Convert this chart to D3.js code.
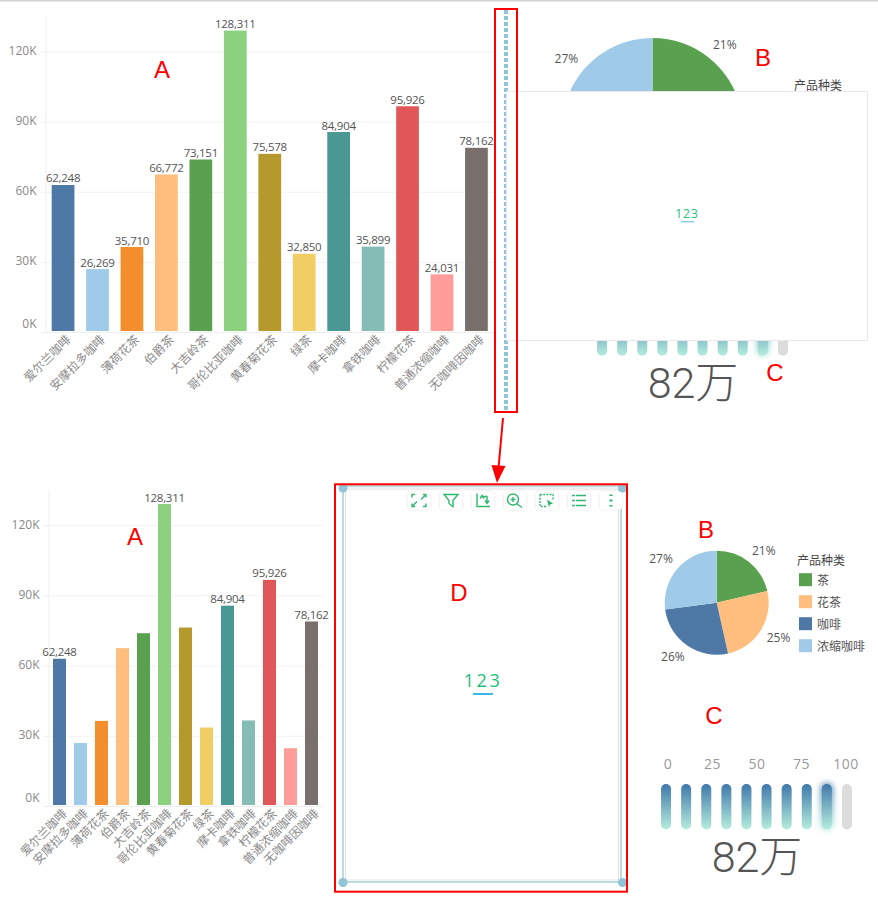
<!DOCTYPE html>
<html>
<head>
<meta charset="utf-8">
<script src="https://cdn.jsdelivr.net/npm/d3@7"></script>
<style>
html, body { margin: 0; padding: 0; background: #fff; }
svg { display: block; }
text { font-family: "Open Sans", "Noto Sans CJK SC", sans-serif; }
.grid line { stroke: #f2f2f2; }
.axis path, .axis line { stroke: #eeeeee; }
.axis text { fill: #8a8a8a; font-size: 12px; }
.val { fill: #555; font-size: 11.5px; letter-spacing: -0.25px; text-anchor: middle; }
.note { fill: #f00; font-family: "Liberation Sans", sans-serif; font-size: 24px; text-anchor: middle; }
</style>
</head>
<body>
<div id="chart"></div>
<script>
// bar chart data
var products = ["爱尔兰咖啡", "安摩拉多咖啡", "薄荷花茶", "伯爵茶", "大吉岭茶", "哥伦比亚咖啡", "黄春菊花茶", "绿茶", "摩卡咖啡", "拿铁咖啡", "柠檬花茶", "普通浓缩咖啡", "无咖啡因咖啡"];
var sales = [62248, 26269, 35710, 66772, 73151, 128311, 75578, 32850, 84904, 35899, 95926, 24031, 78162];
var barColors = ["#4e79a7", "#a0cbe8", "#f28e2b", "#ffbe7d", "#59a14f", "#8cd17d", "#b6992d", "#f1ce63", "#499894", "#86bcb6", "#e15759", "#ff9d9a", "#79706e"];
var yTicks = [0, 30000, 60000, 90000, 120000];

// pie data
var kinds = ["茶", "花茶", "咖啡", "浓缩咖啡"];
var kindShares = [21.4, 25.1, 26.4, 27.1];
var kindColors = ["#59a14f", "#ffbe7d", "#4e79a7", "#a0cbe8"];

// gauge data
var gaugeTicks = [0, 25, 50, 75, 100];
var gaugeCells = [5, 15, 25, 35, 45, 55, 65, 75, 85, 95];
var gaugeValue = 90;
var gaugeText = "82万";

var svg = d3.select("#chart").append("svg")
    .attr("width", 878)
    .attr("height", 900);

var defs = svg.append("defs");

var grad = defs.append("linearGradient")
    .attr("id", "cellFill")
    .attr("x1", 0).attr("y1", 0).attr("x2", 0).attr("y2", 1);
grad.append("stop").attr("offset", "0%").attr("stop-color", "#3f78aa");
grad.append("stop").attr("offset", "100%").attr("stop-color", "#b6eddd");

var blur = defs.append("filter")
    .attr("id", "glow")
    .attr("x", "-80%").attr("y", "-30%").attr("width", "260%").attr("height", "160%");
blur.append("feGaussianBlur").attr("stdDeviation", 3);

var soft = defs.append("filter")
    .attr("id", "soft")
    .attr("x", "-30%").attr("y", "-30%").attr("width", "160%").attr("height", "160%");
soft.append("feDropShadow")
    .attr("dx", 0).attr("dy", 0).attr("stdDeviation", 1.5)
    .attr("flood-color", "#000").attr("flood-opacity", 0.12);

// top edge of the screenshot
svg.append("rect").attr("width", 878).attr("height", 1.5).attr("fill", "#d4d4d4");

function drawBars(opt) {
  var x = d3.scaleBand().domain(products).range([opt.left, opt.right])
    .paddingInner(opt.inner).paddingOuter(opt.outer);
  var y = d3.scaleLinear().domain([0, 120000]).range([opt.bottom, opt.y120]);

  var g = svg.append("g");

  g.append("g").attr("class", "grid")
    .attr("transform", "translate(" + opt.left + ",0)")
    .call(d3.axisLeft(y).tickValues(yTicks).tickSize(-(opt.right - opt.left)).tickFormat(""))
    .select(".domain").remove();

  var yAxis = g.append("g").attr("class", "axis")
    .attr("transform", "translate(" + opt.left + ",0)")
    .call(d3.axisLeft(y).tickValues(yTicks).tickSize(4).tickPadding(5)
      .tickFormat(function(d) { return d / 1000 + "K"; }));
  yAxis.select(".domain").attr("d", "M0.5," + opt.top + "V" + opt.bottom);
  yAxis.selectAll(".tick line").attr("stroke", "#f2f2f2");
  yAxis.selectAll(".tick text").attr("dy", "0.25em");
  // the zero label is lifted off the baseline
  yAxis.selectAll(".tick text").filter(function(d) { return d === 0; }).attr("dy", "-0.35em");

  var xAxis = g.append("g").attr("class", "axis")
    .attr("transform", "translate(0," + opt.bottom + ")")
    .call(d3.axisBottom(x).tickSize(4).tickSizeOuter(0));
  xAxis.selectAll(".tick text")
    .attr("text-anchor", "end")
    .attr("dx", "0")
    .attr("dy", "0.4em")
    .attr("transform", "rotate(-45)");

  g.selectAll(".bar")
    .data(sales)
    .enter().append("rect")
    .attr("class", "bar")
    .attr("x", function(d, i) { return x(products[i]); })
    .attr("y", function(d) { return y(d) - 1.5; })
    .attr("width", x.bandwidth())
    .attr("height", function(d) { return opt.bottom - y(d) + 0.5; })
    .attr("fill", function(d, i) { return barColors[i]; });

  g.selectAll(".val")
    .data(sales)
    .enter()
    .filter(function(d, i) { return opt.showLabel.indexOf(i) >= 0; })
    .append("text")
    .attr("class", "val")
    .attr("x", function(d) { return x(products[sales.indexOf(d)]) + x.bandwidth() / 2; })
    .attr("y", function(d) { return y(d) - 4; })
    .text(d3.format(","));
}

function drawPie(opt) {
  var g = svg.append("g").attr("transform", "translate(" + opt.cx + "," + opt.cy + ")");
  var arcs = d3.pie().sort(null)(kindShares);
  var arc = d3.arc().innerRadius(0).outerRadius(opt.r);
  var labelArc = d3.arc().innerRadius(opt.r + opt.gap).outerRadius(opt.r + opt.gap);

  g.selectAll("path")
    .data(arcs)
    .enter().append("path")
    .attr("d", arc)
    .attr("fill", function(d, i) { return kindColors[i]; });

  g.selectAll("text")
    .data(arcs)
    .enter().append("text")
    .attr("transform", function(d) {
      var c = labelArc.centroid(d);
      return "translate(" + (c[0] + (c[0] > 0 ? 6 : -6)) + "," + c[1] + ")";
    })
    .attr("text-anchor", "middle")
    .attr("dy", "0.35em")
    .attr("fill", "#555")
    .attr("font-size", 12)
    .text(function(d) { return Math.round(d.value) + "%"; });

  var legend = svg.append("g").attr("transform", "translate(" + opt.legendX + "," + opt.legendY + ")");
  legend.append("text")
    .attr("y", 4)
    .attr("fill", "#444")
    .attr("font-size", 12)
    .text("产品种类");
  var item = legend.selectAll(".item")
    .data(kinds)
    .enter().append("g")
    .attr("class", "item")
    .attr("transform", function(d, i) { return "translate(2," + (12.5 + i * 22) + ")"; });
  item.append("rect")
    .attr("width", 13).attr("height", 13)
    .attr("fill", function(d, i) { return kindColors[i]; });
  item.append("text")
    .attr("x", 18).attr("y", 11.5)
    .attr("fill", "#555")
    .attr("font-size", 12)
    .text(function(d) { return d; });
}

function drawGauge(opt) {
  var x = d3.scaleLinear().domain([0, 100]).range([opt.left, opt.right]);
  var labelX = d3.scaleLinear().domain([0, 100]).range([opt.left + 12, opt.right - 11]);
  var g = svg.append("g");

  g.selectAll(".tickText")
    .data(gaugeTicks)
    .enter().append("text")
    .attr("x", function(d) { return labelX(d); })
    .attr("y", opt.top - 20)
    .attr("dy", "0.35em")
    .attr("text-anchor", "middle")
    .attr("fill", "#999")
    .attr("font-size", 14)
    .attr("letter-spacing", 0.5)
    .text(function(d) { return d; });

  g.selectAll(".halo")
    .data(gaugeCells.filter(function(d) { return d > gaugeValue - 10 && d < gaugeValue; }))
    .enter().append("rect")
    .attr("x", function(d) { return x(d) - 6; })
    .attr("y", opt.top - 1)
    .attr("width", 12).attr("height", 47).attr("rx", 6)
    .attr("fill", "url(#cellFill)")
    .attr("filter", "url(#glow)");

  g.selectAll(".cell")
    .data(gaugeCells)
    .enter().append("rect")
    .attr("x", function(d) { return x(d) - 5; })
    .attr("y", opt.top)
    .attr("width", 10).attr("height", 45.5).attr("rx", 5)
    .attr("fill", function(d) { return d < gaugeValue ? "url(#cellFill)" : "#dcdcdc"; });

  g.append("text")
    .attr("x", opt.textX)
    .attr("y", opt.top + 72.5)
    .attr("dy", "0.35em")
    .attr("text-anchor", "middle")
    .attr("fill", "#555")
    .attr("font-family", "Roboto, 'Noto Sans CJK SC', sans-serif")
    .attr("style", "font-family: Roboto, 'Noto Sans CJK SC', sans-serif; font-weight: 300")
    .attr("font-size", 43)
    .text(gaugeText);
}

// original layout at the top of the page
drawBars({ left: 45.5, right: 494, inner: 0.34, outer: 0.18, top: 15, y120: 51.5, bottom: 332,
           showLabel: d3.range(sales.length) });
drawPie({ cx: 652.5, cy: 128.5, r: 90.5, gap: 16, legendX: 794, legendY: 86 });
drawGauge({ left: 592, right: 793, top: 310.3, textX: 693 });

// dragged edge, the panel covers its right half
svg.append("line")
  .attr("x1", 506).attr("y1", 10).attr("x2", 506).attr("y2", 411)
  .attr("stroke", "#8ec5d8").attr("stroke-width", 4)
  .attr("stroke-dasharray", "4 2");

// white panel dragged over the top layout
svg.append("rect")
  .attr("x", 506.5).attr("y", 91.5)
  .attr("width", 361).attr("height", 249)
  .attr("fill", "#fff")
  .attr("stroke", "#e8e8ee");
svg.append("text")
  .attr("x", 687).attr("y", 214)
  .attr("dy", "0.35em")
  .attr("text-anchor", "middle")
  .attr("fill", "#1cc07c")
  .attr("font-size", 12)
  .attr("letter-spacing", 1)
  .text("123");
svg.append("rect").attr("x", 681).attr("y", 221).attr("width", 13).attr("height", 1.5).attr("fill", "#8ed0ee");

// result layout below
drawBars({ left: 48.5, right: 322.5, inner: 0.38, outer: 0.214, top: 490, y120: 525, bottom: 806,
           showLabel: [0, 5, 8, 10, 12] });
drawPie({ cx: 716.7, cy: 602.7, r: 52, gap: 14, legendX: 797, legendY: 560.7 });
drawGauge({ left: 656, right: 857, top: 784, textX: 757 });

// selection frame of tile D
var frame = { x0: 343, y0: 486.3, x1: 621, y1: 882 };
svg.append("rect")
  .attr("x", frame.x0 + 2.5).attr("y", frame.y0 + 2.7)
  .attr("width", frame.x1 - frame.x0 - 5).attr("height", frame.y1 - frame.y0 - 4.7)
  .attr("fill", "none").attr("stroke", "#e2e2e2");
svg.append("rect")
  .attr("x", frame.x0).attr("y", frame.y0)
  .attr("width", frame.x1 - frame.x0).attr("height", frame.y1 - frame.y0)
  .attr("fill", "none").attr("stroke", "#bcdce4").attr("stroke-width", 2);
svg.selectAll(".handle")
  .data([[343, 488], [622.5, 488], [343, 882.5], [622.5, 882.5]])
  .enter().append("circle")
  .attr("class", "handle")
  .attr("cx", function(d) { return d[0]; })
  .attr("cy", function(d) { return d[1]; })
  .attr("r", 4.5)
  .attr("fill", "#90c4d6");

svg.append("text")
  .attr("x", 483).attr("y", 681)
  .attr("dy", "0.35em")
  .attr("text-anchor", "middle")
  .attr("fill", "#1cc07c")
  .attr("font-size", 18)
  .attr("letter-spacing", 2.5)
  .text("123");
svg.append("rect").attr("x", 473).attr("y", 693).attr("width", 20).attr("height", 2).attr("fill", "#38b8e8");

// toolbar icons, each drawn around its own centre
var toolIcons = [
  "M-7,-3V-6H-4M4,-6H7V-3M7,3V6H4M-4,6H-7V3M-6,5L-2,1M6,-5L2,-1",
  "M-7,-6H7L2,0V6L-2,3V0Z",
  "M-6,-7V6H7M-2,-4H4V2M-3,-2L-1,-5L1,-2M2,0L4,3L6,0",
  "M3.5,-1A5.5,5.5 0 1 1 -7.5,-1A5.5,5.5 0 1 1 3.5,-1M-4.5,-1H.5M-2,-3.5V1.5M2,3.5L7,7",
  "M-7,-6H6V-1M-7,-6V6H-1",
  "M-7,-5H7M-7,0H7M-7,5H7",
  "M0,-6V-4.5M0,-1V1M0,4.5V6"
];
var toolX = d3.scaleLinear().domain([0, 6]).range([419, 611]);
var tool = svg.selectAll(".tool")
  .data(toolIcons)
  .enter().append("g")
  .attr("class", "tool")
  .attr("transform", function(d, i) { return "translate(" + toolX(i) + ",500.5)"; });
tool.append("rect")
  .attr("x", -11).attr("y", -9)
  .attr("width", 22).attr("height", 18).attr("rx", 3)
  .attr("fill", "#fff")
  .attr("filter", "url(#soft)");
tool.append("path")
  .attr("d", function(d) { return d; })
  .attr("fill", "none")
  .attr("stroke", "#2fb86f")
  .attr("stroke-width", function(d, i) { return i === 6 ? 3 : 1.4; })
  .attr("stroke-dasharray", function(d, i) { return i === 4 ? "2 1.2" : (i === 5 ? "3 1 10 0" : null); });
tool.filter(function(d, i) { return i === 4; }).append("path")
  .attr("d", "M0,-1L6,3L3,4L2,7Z")
  .attr("fill", "#2fb86f");

// red annotations
var notes = [["A", 162, 78], ["A", 135, 545], ["B", 763, 66], ["B", 706, 538], ["C", 775, 381], ["C", 714, 724], ["D", 459, 601]];
svg.selectAll(".note")
  .data(notes)
  .enter().append("text")
  .attr("class", "note")
  .attr("x", function(d) { return d[1]; })
  .attr("y", function(d) { return d[2]; })
  .text(function(d) { return d[0]; });

svg.append("rect")
  .attr("x", 495).attr("y", 9).attr("width", 22).attr("height", 403)
  .attr("fill", "none").attr("stroke", "#f00").attr("stroke-width", 2);
svg.append("rect")
  .attr("x", 335).attr("y", 484.3).attr("width", 292).attr("height", 407.4)
  .attr("fill", "none").attr("stroke", "#f00").attr("stroke-width", 2);

// red arrow between the two layouts
svg.append("line")
  .attr("x1", 503).attr("y1", 418).attr("x2", 498.5).attr("y2", 468)
  .attr("stroke", "#f00").attr("stroke-width", 2);
svg.append("path")
  .attr("d", "M491.5,465L505.5,466L497,483Z")
  .attr("fill", "#f00");
</script>
</body>
</html>
